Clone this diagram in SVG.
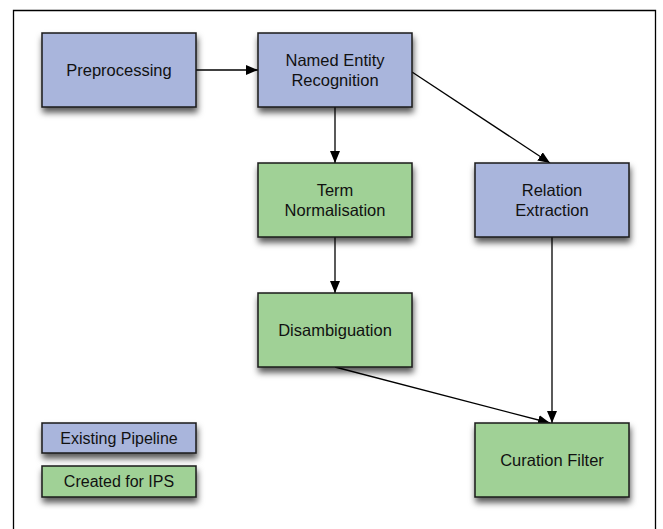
<svg xmlns="http://www.w3.org/2000/svg" width="663" height="529" viewBox="0 0 663 529">
<style>
.box{stroke:#1a1a1a;stroke-width:1.5;filter:url(#sh)}
.blue{fill:#a9b5dc}
.green{fill:#a0d196}
text{font-family:"Liberation Sans",Arial,sans-serif;font-size:16.5px;fill:#111;text-anchor:middle}
.lg{font-size:16px}
.edge{stroke:#000;stroke-width:1.3;fill:none;marker-end:url(#ah)}
</style>
<defs>
<filter id="sh" x="-20%" y="-20%" width="140%" height="160%">
<feDropShadow dx="1" dy="5" stdDeviation="3" flood-color="#000" flood-opacity="0.65"/>
</filter>
<marker id="ah" viewBox="0 0 12 10" refX="12" refY="5" markerWidth="12" markerHeight="10" markerUnits="userSpaceOnUse" orient="auto">
<path d="M0,0 L12,5 L0,10 z" fill="#000"/>
</marker>
</defs>
<rect width="663" height="529" fill="#fff"/>
<path d="M13.5,529 V10.5 H655.5 V529" fill="none" stroke="#000" stroke-width="1.3"/>
<g id="connectors">
<line class="edge" x1="196" y1="70" x2="258" y2="70"/>
<line class="edge" x1="412" y1="72" x2="550" y2="163"/>
<line class="edge" x1="335" y1="107" x2="335" y2="163"/>
<line class="edge" x1="335" y1="237" x2="335" y2="293"/>
<line class="edge" x1="552" y1="237" x2="552" y2="423"/>
<line class="edge" x1="335" y1="367" x2="550" y2="423"/>
</g>
<g id="preprocessing">
<rect class="box blue" x="42" y="33" width="154" height="74"/>
<text x="119" y="75.5">Preprocessing</text>
</g>
<g id="ner">
<rect class="box blue" x="258" y="33" width="154" height="74"/>
<text x="335" y="65.5">Named Entity</text>
<text x="335" y="85.5">Recognition</text>
</g>
<g id="term-normalisation">
<rect class="box green" x="258" y="163" width="154" height="74"/>
<text x="335" y="195.5">Term</text>
<text x="335" y="215.5">Normalisation</text>
</g>
<g id="relation-extraction">
<rect class="box blue" x="475" y="163" width="154" height="74"/>
<text x="552" y="195.5">Relation</text>
<text x="552" y="215.5">Extraction</text>
</g>
<g id="disambiguation">
<rect class="box green" x="258" y="293" width="154" height="74"/>
<text x="335" y="335.5">Disambiguation</text>
</g>
<g id="curation-filter">
<rect class="box green" x="475" y="423" width="154" height="74"/>
<text x="552" y="465.5">Curation Filter</text>
</g>
<g id="legend-existing">
<rect class="box blue" x="42" y="423" width="154" height="30"/>
<text class="lg" x="119" y="443.5">Existing Pipeline</text>
</g>
<g id="legend-created">
<rect class="box green" x="42" y="466" width="154" height="31"/>
<text class="lg" x="119" y="486.5">Created for IPS</text>
</g>
</svg>
